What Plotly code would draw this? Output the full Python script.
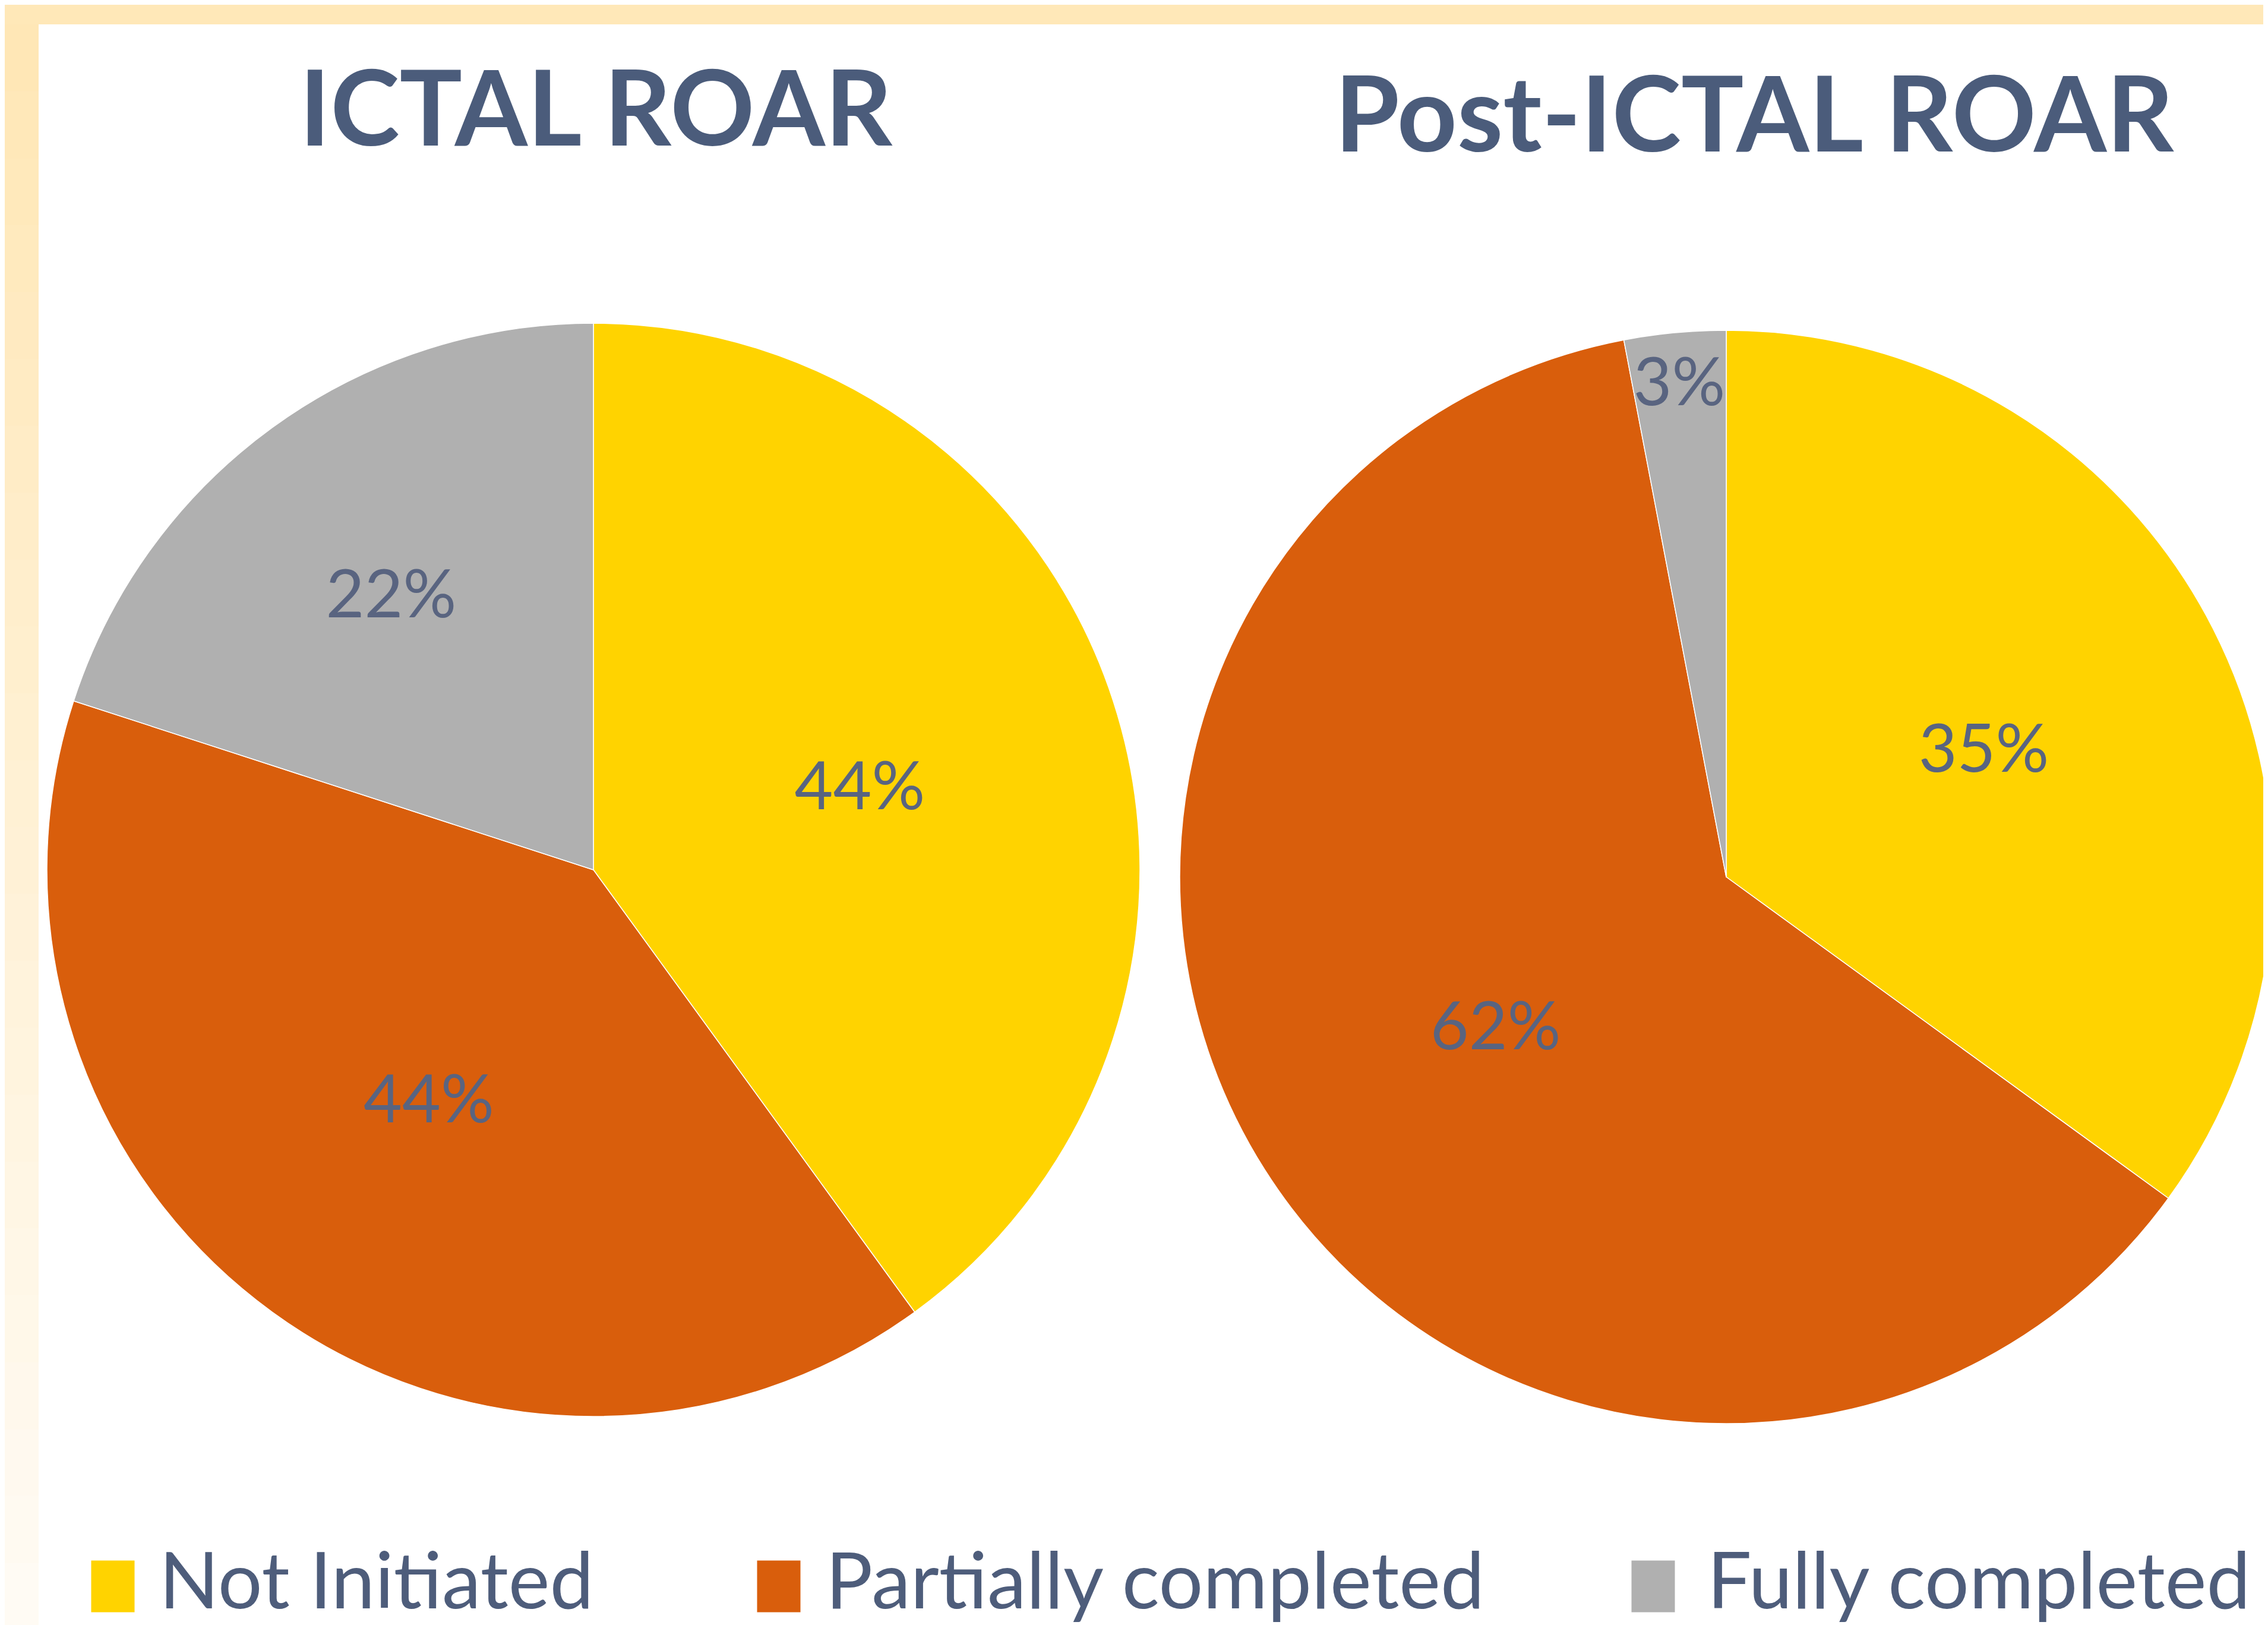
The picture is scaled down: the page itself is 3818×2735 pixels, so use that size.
import plotly.graph_objects as go

# ---- data ----
categories = ["Not Initiated", "Partially completed", "Fully completed"]
ictal_values = [44, 44, 22]
post_values = [35, 62, 3]
titles = ["ICTAL ROAR", "Post-ICTAL ROAR"]
colors = ["#FFD300", "#D95E0C", "#B0B0B0"]

W, H = 3818, 2735
TEXT = "#596480"
TITLE = "#4B5C7B"


def px_x(x):
    return x / W


def px_y(y):
    return 1 - y / H


def dom(cx, cy, r):
    return dict(x=[max(0, px_x(cx - r)), min(1, px_x(cx + r))],
                y=[px_y(cy + r), px_y(cy - r)])


fig = go.Figure()

pie_common = dict(
    labels=categories,
    marker=dict(colors=colors, line=dict(color="white", width=1.5)),
    sort=False,
    direction="clockwise",
    rotation=0,
    texttemplate="%{value}%",
    textposition="inside",
    insidetextorientation="horizontal",
    textfont=dict(family="Lato, Open Sans, sans-serif", size=112, color=TEXT),
    hoverinfo="label+value",
    showlegend=False,
)

fig.add_trace(go.Pie(values=ictal_values, domain=dom(991, 1456, 920), **pie_common))
fig.add_trace(go.Pie(values=post_values, domain=dom(2898, 1468, 920), **pie_common))

annotations = []
# titles
for t, cx, cy in [(titles[0], 995, 168), (titles[1], 2945, 178)]:
    annotations.append(dict(
        text=f"<b>{t}</b>", x=px_x(cx), y=px_y(cy), xref="paper", yref="paper",
        xanchor="center", yanchor="middle", showarrow=False,
        font=dict(family="Lato, Open Sans, sans-serif", size=176, color=TITLE)))

# legend (squares + labels)
leg_sq_x = [145, 1266, 2738]
leg_tx_x = [258, 1380, 2864]
for c, name, sx, tx in zip(colors, categories, leg_sq_x, leg_tx_x):
    annotations.append(dict(
        text=" ", x=px_x(sx), y=px_y(2662), xref="paper", yref="paper",
        xanchor="left", yanchor="middle", showarrow=False,
        width=72, height=86, bgcolor=c, borderpad=0, font=dict(size=10)))
    annotations.append(dict(
        text=name, x=px_x(tx), y=px_y(2648), xref="paper", yref="paper",
        xanchor="left", yanchor="middle", showarrow=False,
        font=dict(family="Lato, Open Sans, sans-serif", size=132, color="#4E5D7B")))

# background border strips (peach frame on top and left)
shapes = [dict(type="rect", xref="paper", yref="paper", x0=0, x1=1,
               y0=px_y(33), y1=1, fillcolor="#FFE8B8", line=dict(width=0), layer="below")]
n = 24
c0 = (255, 231, 182)
c1 = (255, 251, 244)
for i in range(n):
    f = i / (n - 1)
    col = "rgb(%d,%d,%d)" % tuple(round(a + (b - a) * f) for a, b in zip(c0, c1))
    y0 = 33 + (H - 33) * i / n
    y1 = 33 + (H - 33) * (i + 1) / n + 1
    shapes.append(dict(type="rect", xref="paper", yref="paper", x0=0, x1=px_x(57),
                       y0=px_y(min(H, y1)), y1=px_y(y0), fillcolor=col,
                       line=dict(width=0), layer="below"))

fig.update_layout(
    width=W, height=H,
    margin=dict(l=0, r=0, t=0, b=0),
    paper_bgcolor="white",
    plot_bgcolor="white",
    annotations=annotations,
    shapes=shapes,
    uniformtext=dict(minsize=112, mode="show"),
    font=dict(family="Lato, Open Sans, sans-serif", color=TEXT),
)

fig.write_html("out.html")
